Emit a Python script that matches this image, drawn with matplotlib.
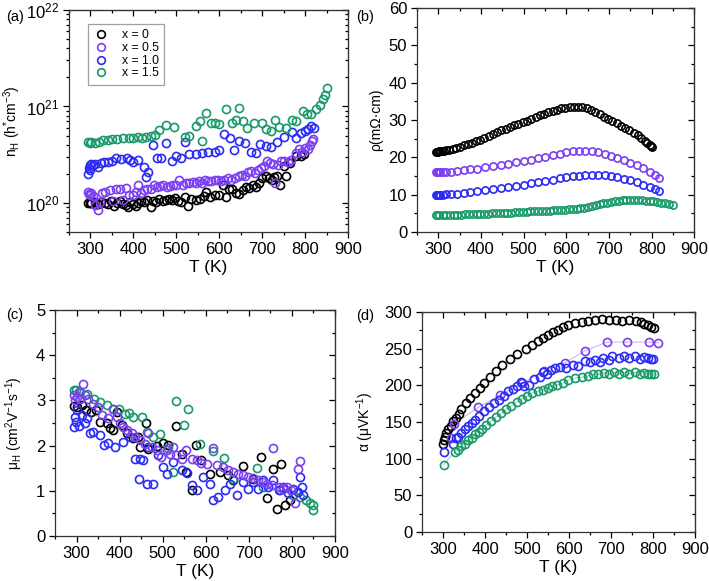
import numpy as np
import matplotlib
matplotlib.use('Agg')
import matplotlib.pyplot as plt
from matplotlib.ticker import MultipleLocator, LogLocator, NullFormatter

plt.rcParams['font.family'] = ['Liberation Sans', 'DejaVu Sans']
plt.rcParams['mathtext.fontset'] = 'custom'
plt.rcParams['mathtext.rm'] = 'Liberation Sans'
plt.rcParams['mathtext.it'] = 'Liberation Sans:italic'
plt.rcParams['mathtext.default'] = 'regular'

labels = ['x = 0', 'x = 0.5', 'x = 1.0', 'x = 1.5']
colors = ['#000000', '#7b3ff2', '#2b2bf5', '#179a68']

# ---------------- (a) carrier concentration, units of 1e20 cm^-3 ----------------
a_T0 = [295, 298, 302, 310, 318, 325, 333, 340, 348, 355, 362, 370, 376, 382, 388, 393, 400, 405,
        410, 418, 425, 432, 440, 446, 452, 460, 468, 475, 482, 490, 497, 505, 512, 520, 528, 535,
        545, 555, 565, 570, 578, 590, 600, 608, 615, 622, 630, 638, 645, 655, 662, 670, 678, 685,
        692, 700, 708, 715, 722, 728, 735, 742, 750, 756, 765, 778, 790, 798]
a_n0 = [1.00, 1.01, 1.00, 1.02, 0.98, 1.03, 1.00, 0.97, 1.05, 0.92, 1.00, 1.06, 0.98, 0.95, 0.90, 1.02, 0.97, 0.93,
        1.00, 1.04, 1.02, 1.08, 0.91, 1.06, 1.02, 1.10, 1.05, 1.08, 1.10, 1.07, 1.12, 1.05, 1.02, 1.15, 0.93, 1.10,
        1.08, 1.10, 1.18, 1.30, 1.15, 1.22, 1.20, 1.52, 1.15, 1.38, 1.40, 1.28, 1.25, 1.35, 1.45, 1.42, 1.52, 1.48,
        1.62, 1.80, 1.92, 1.80, 1.75, 1.85, 1.92, 1.54, 2.40, 1.90, 2.60, 3.05, 3.10, 3.20]
a_T1 = [295, 297, 299, 301, 305, 310, 318, 322, 328, 335, 345, 352, 360, 368, 375, 382, 390, 398, 405,
        410, 418, 425, 432, 440, 448, 455, 462, 470, 478, 485, 492, 500, 507, 515, 522, 530, 538, 545,
        552, 560, 568, 575, 582, 590, 598, 605, 612, 620, 628, 636, 645, 652, 660, 668, 675, 683, 690,
        698, 705, 712, 718, 725, 729, 738, 745, 752, 760, 768, 778, 785, 793, 800, 806, 812, 816, 818]
a_n1 = [1.30, 1.25, 1.22, 1.28, 1.18, 0.95, 0.85, 1.02, 1.28, 1.30, 1.35, 1.05, 1.38, 1.40, 1.08, 1.42, 1.20, 1.22, 1.30,
        1.55, 1.28, 1.35, 1.38, 1.40, 1.52, 1.45, 1.50, 1.52, 1.48, 1.50, 1.55, 1.52, 1.75, 1.55, 1.62, 1.60, 1.65, 1.62,
        1.70, 1.62, 1.72, 1.70, 1.68, 1.72, 1.75, 1.70, 1.72, 1.80, 1.75, 1.80, 1.90, 1.95, 1.90, 2.10, 2.15, 2.05, 2.20,
        2.30, 2.40, 2.70, 2.60, 2.55, 1.60, 2.50, 2.70, 2.75, 2.65, 2.80, 3.30, 3.60, 3.40, 3.70, 3.60, 4.00, 4.40, 4.60]
a_T2 = [295, 296, 298, 300, 302, 305, 310, 318, 325, 332, 340, 350, 360, 372, 385, 392, 400, 410, 425,
        430, 435, 445, 455, 465, 475, 490, 500, 510, 520, 530, 545, 560, 575, 590, 600, 610, 625, 635,
        645, 660, 675, 685, 695, 710, 720, 735, 750, 770, 780, 790, 800, 808, 815, 820]
a_n2 = [2.00, 2.30, 2.50, 2.20, 2.55, 2.45, 2.55, 2.35, 2.60, 2.65, 2.65, 2.75, 2.95, 2.85, 2.95, 2.80, 2.65, 2.80, 2.35,
        1.85, 2.10, 4.00, 2.90, 2.90, 4.20, 2.75, 3.10, 2.95, 4.30, 3.25, 3.20, 3.30, 3.35, 3.40, 3.55, 5.20, 4.70, 3.50,
        4.40, 4.20, 3.40, 3.30, 4.10, 3.90, 3.80, 4.30, 4.80, 5.50, 4.70, 5.30, 5.60, 5.80, 6.30, 6.00]
a_T3 = [295, 298, 302, 310, 320, 330, 340, 350, 362, 375, 390, 400, 410, 420, 430, 440, 450, 460, 475,
        495, 520, 530, 545, 555, 560, 570, 580, 590, 600, 615, 630, 640, 645, 655, 665, 680, 700, 710,
        720, 730, 740, 755, 770, 780, 795, 805, 815, 825, 835, 842, 846, 850]
a_n3 = [4.30, 4.20, 4.25, 4.20, 4.30, 4.45, 4.50, 4.60, 4.65, 4.70, 4.70, 4.75, 4.80, 4.75, 4.85, 5.00, 5.10, 5.70, 6.50,
        6.20, 4.80, 5.00, 6.30, 7.10, 4.40, 8.50, 6.80, 6.70, 6.60, 9.50, 6.80, 7.20, 9.60, 7.00, 6.00, 6.80, 6.80, 5.80,
        5.60, 7.20, 6.10, 6.00, 7.20, 7.00, 9.00, 8.30, 8.40, 9.50, 10.3, 12.0, 13.0, 15.5]

# ---------------- (b) resistivity, mOhm cm ----------------
b_T0 = [295, 297, 299, 301, 304, 308, 313, 319, 326, 334, 342, 351, 360, 369, 378, 388, 398, 408, 418, 428,
        438, 448, 458, 468, 478, 488, 498, 508, 518, 528, 538, 548, 558, 568, 578, 588, 598, 608, 618, 628,
        638, 648, 658, 668, 678, 688, 698, 708, 718, 728, 738, 748, 758, 768, 776, 784, 790, 795, 798, 800]
b_r0 = [21.5, 21.5, 21.5, 21.6, 21.6, 21.7, 21.8, 21.9, 22.0, 22.2, 22.5, 22.8, 23.2, 23.5, 23.9, 24.3, 24.7, 25.2, 25.7, 26.2,
        26.7, 27.2, 27.7, 28.2, 28.6, 29.0, 29.4, 29.8, 30.3, 30.8, 31.3, 31.7, 32.1, 32.5, 32.8, 33.1, 33.3, 33.5, 33.6, 33.6,
        33.5, 33.2, 32.7, 32.1, 31.5, 30.9, 30.3, 29.7, 29.1, 28.5, 27.9, 27.3, 26.6, 25.9, 25.2, 24.5, 23.9, 23.3, 23.0, 22.7]
b_T1 = [295, 296, 297, 298, 299, 300, 302, 305, 310, 318, 330, 345, 360, 375, 390, 410, 428, 446, 464, 482, 500,
        517, 534, 551, 568, 585, 600, 615, 630, 645, 660, 675, 690, 705, 720, 735, 750, 765, 780, 795, 808, 818]
b_r1 = [16.0, 16.0, 16.0, 16.0, 16.0, 16.0, 16.0, 16.0, 16.0, 16.1, 16.2, 16.4, 16.6, 16.8, 17.0, 17.3, 17.6, 17.9, 18.3, 18.7, 19.0,
        19.4, 19.8, 20.2, 20.6, 21.0, 21.3, 21.6, 21.8, 21.8, 21.6, 21.3, 20.9, 20.4, 19.9, 19.3, 18.6, 17.9, 17.1, 16.2, 15.2, 14.4]
b_T2 = [295, 296, 297, 298, 299, 300, 302, 305, 310, 318, 330, 345, 360, 375, 390, 410, 428, 446, 464, 482, 500,
        517, 534, 551, 568, 585, 600, 615, 630, 645, 660, 675, 690, 705, 720, 735, 750, 765, 780, 795, 808, 818]
b_r2 = [10.0, 10.0, 10.0, 10.0, 10.0, 10.0, 10.0, 10.0, 10.0, 10.1, 10.2, 10.3, 10.5, 10.7, 10.9, 11.2, 11.5, 11.8, 12.1, 12.4, 12.7,
        13.0, 13.4, 13.7, 14.0, 14.4, 14.7, 14.9, 15.1, 15.2, 15.3, 15.3, 15.2, 15.0, 14.7, 14.3, 13.8, 13.3, 12.7, 12.0, 11.4, 11.0]
b_T3 = [295, 298, 302, 310, 318, 327, 336, 345, 354, 363, 372, 381, 390, 399, 408, 417, 426, 435, 444, 453, 462,
        471, 480, 489, 498, 507, 516, 525, 534, 543, 552, 561, 570, 579, 588, 597, 606, 615, 624, 633, 642, 651,
        660, 669, 678, 687, 696, 705, 714, 723, 732, 741, 750, 759, 768, 777, 786, 795, 804, 813, 822, 831, 840, 850]
b_r3 = [4.5, 4.5, 4.5, 4.5, 4.5, 4.5, 4.6, 4.6, 4.6, 4.7, 4.7, 4.8, 4.8, 4.8, 4.9, 4.9, 5.0, 5.0, 5.1, 5.1, 5.2,
        5.2, 5.3, 5.3, 5.4, 5.4, 5.5, 5.5, 5.6, 5.6, 5.7, 5.7, 5.8, 5.8, 5.9, 6.0, 6.1, 6.1, 6.2, 6.3, 6.5, 6.7,
        6.9, 7.1, 7.4, 7.7, 7.9, 8.1, 8.3, 8.4, 8.5, 8.6, 8.6, 8.6, 8.6, 8.5, 8.4, 8.3, 8.2, 8.1, 7.9, 7.8, 7.6, 7.3]

# ---------------- (c) Hall mobility, cm2/Vs ----------------
c_T0 = [294, 300, 312, 323, 333, 346, 354, 370, 378, 385, 393, 405, 416, 432, 443, 447, 461, 466, 486, 501,
        513, 530, 544, 555, 567, 577, 590, 610, 633, 652, 664, 687, 710, 728, 741, 755, 765, 775, 784, 795]
c_u0 = [2.88, 2.86, 2.90, 2.78, 2.74, 2.78, 2.53, 2.49, 2.38, 2.34, 2.75, 2.45, 2.27, 2.16, 2.19, 1.97, 2.49, 1.92, 1.99, 2.05,
        2.01, 2.43, 1.82, 1.42, 1.01, 2.02, 1.68, 1.38, 1.42, 1.34, 1.23, 1.54, 1.27, 1.74, 0.85, 1.48, 0.60, 1.59, 0.68, 0.79]
c_T1 = [294, 296, 300, 305, 308, 314, 319, 327, 339, 350, 358, 374, 385, 393, 401, 408, 416, 428, 435, 447,
        459, 466, 474, 486, 497, 509, 517, 525, 532, 544, 555, 567, 579, 590, 602, 617, 625, 641, 652, 664,
        675, 687, 699, 710, 722, 734, 741, 753, 757, 769, 780, 788, 799, 807, 815, 819]
c_u1 = [3.12, 3.00, 3.08, 3.19, 3.04, 3.36, 3.12, 3.04, 2.93, 2.86, 2.67, 2.60, 2.82, 2.64, 2.49, 2.42, 2.34, 2.27, 2.19, 2.12,
        2.03, 2.27, 1.97, 1.90, 1.75, 1.90, 1.82, 1.97, 1.79, 1.71, 1.90, 1.71, 1.68, 1.62, 1.60, 1.94, 1.57, 1.53, 1.45, 1.42,
        1.38, 1.34, 1.31, 1.29, 1.23, 1.20, 1.16, 1.12, 1.94, 1.09, 1.03, 1.09, 1.01, 0.74, 1.49, 1.65]
c_T2 = [294, 296, 298, 302, 306, 312, 319, 325, 331, 339, 354, 363, 374, 389, 408, 424, 435, 446, 447, 455,
        463, 466, 478, 490, 501, 509, 525, 544, 556, 567, 579, 594, 610, 617, 629, 645, 656, 672, 687, 699,
        710, 722, 734, 745, 757, 769, 780, 792, 803, 815, 819, 823, 826]
c_u2 = [2.42, 2.64, 2.53, 2.78, 2.43, 2.67, 2.49, 2.60, 2.27, 2.30, 2.23, 2.01, 2.05, 1.97, 2.08, 2.19, 1.71, 1.25, 1.71, 1.68,
        1.14, 1.97, 1.14, 1.79, 1.53, 1.38, 1.64, 1.45, 1.40, 1.12, 1.01, 1.31, 1.16, 0.79, 0.86, 1.01, 1.14, 0.90, 1.20, 1.03,
        1.20, 1.05, 1.23, 1.09, 1.23, 1.01, 1.09, 0.94, 1.05, 0.97, 1.31, 1.09, 0.90]
c_T3 = [294, 298, 308, 325, 341, 354, 370, 384, 399, 412, 422, 432, 451, 463, 478, 494, 513, 523, 532, 550,
        559, 586, 617, 642, 664, 718, 733, 772, 803, 819, 833, 842, 850, 850]
c_u3 = [3.24, 3.23, 3.19, 3.14, 3.04, 2.97, 2.90, 2.82, 2.82, 2.71, 2.73, 2.64, 2.64, 2.30, 2.19, 2.25, 1.94, 1.42, 2.98, 2.45,
        2.82, 2.03, 1.87, 1.73, 1.27, 1.51, 1.09, 1.01, 0.90, 0.86, 0.79, 0.73, 0.69, 0.58]

# ---------------- (d) Seebeck coefficient, uV/K ----------------
d_T0 = [301, 303, 305, 308, 312, 318, 324, 331, 337, 344, 354, 364, 377, 389, 398, 413, 426, 441, 459, 477,
        497, 513, 526, 538, 550, 562, 574, 586, 598, 614, 630, 646, 662, 679, 695, 711, 727, 743, 759, 771,
        779, 787, 795, 803]
d_a0 = [120, 126, 130, 135, 140, 145, 151, 155, 161, 168, 176, 183, 189, 196, 203, 211, 220, 228, 236, 243,
        250, 255, 260, 264, 268, 273, 276, 279, 282, 285, 287, 288, 289, 290, 289, 289, 288, 289, 288, 286,
        284, 282, 280, 278]
d_T1 = [318, 326, 384, 436, 487, 541, 590, 638, 690, 739, 790, 813]
d_a1 = [128, 147, 170, 187, 203, 219, 231, 247, 259, 259, 259, 258]
d_T2 = [302, 323, 331, 336, 344, 352, 360, 368, 377, 385, 397, 409, 421, 433, 445, 455, 467, 477, 485, 493,
        505, 517, 530, 538, 548, 558, 566, 578, 594, 610, 622, 638, 650, 662, 674, 682, 695, 703, 719, 731,
        743, 757, 770, 779, 787, 795, 801]
d_a2 = [109, 120, 128, 130, 135, 140, 144, 149, 153, 158, 165, 170, 176, 180, 185, 192, 195, 199, 204, 199,
        201, 208, 212, 218, 215, 221, 224, 225, 223, 228, 227, 233, 232, 235, 232, 237, 235, 240, 237, 240,
        237, 240, 236, 239, 237, 236, 236]
d_T3 = [302, 328, 336, 344, 352, 360, 368, 377, 385, 393, 403, 414, 426, 439, 451, 463, 475, 487, 501, 513,
        526, 538, 550, 559, 572, 586, 598, 614, 630, 646, 658, 670, 683, 695, 707, 719, 731, 743, 757, 770,
        779, 787, 795, 803]
d_a3 = [92, 109, 112, 117, 120, 125, 128, 133, 137, 140, 146, 151, 157, 162, 168, 172, 177, 182, 185, 190,
        192, 194, 197, 199, 201, 203, 207, 210, 211, 213, 215, 215, 217, 215, 218, 216, 218, 216, 218, 216,
        217, 216, 216, 215]

TICK_FS = 12
XLAB_FS = 12.5
YLAB_FS = 10


def style(ax, ylim, ymaj=None, ymin=None, log=False):
    ax.set_xlim(250, 900)
    ax.set_ylim(*ylim)
    ax.xaxis.set_major_locator(MultipleLocator(100))
    ax.xaxis.set_minor_locator(MultipleLocator(50))
    if log:
        ax.set_yscale('log')
        ax.set_ylim(*ylim)
        ax.yaxis.set_major_locator(LogLocator(base=10, numticks=10))
        ax.yaxis.set_minor_locator(LogLocator(base=10, subs=np.arange(2, 10), numticks=10))
        ax.yaxis.set_minor_formatter(NullFormatter())
    else:
        ax.yaxis.set_major_locator(MultipleLocator(ymaj))
        ax.yaxis.set_minor_locator(MultipleLocator(ymin))
    ax.tick_params(which='both', direction='out', labelsize=TICK_FS, width=0.9, pad=2.5)
    ax.tick_params(which='major', length=4.5)
    ax.tick_params(which='minor', length=2.5)
    for s in ax.spines.values():
        s.set_linewidth(0.9)
        s.set_color('#333333')
    top = ax.secondary_xaxis('top')
    top.xaxis.set_major_locator(MultipleLocator(100))
    top.xaxis.set_minor_locator(MultipleLocator(50))
    top.tick_params(which='both', direction='in', labeltop=False, width=0.9)
    top.tick_params(which='major', length=4.5)
    top.tick_params(which='minor', length=2.5)
    right = ax.secondary_yaxis('right')
    if log:
        right.yaxis.set_major_locator(LogLocator(base=10, numticks=10))
        right.yaxis.set_minor_locator(LogLocator(base=10, subs=np.arange(2, 10), numticks=10))
    else:
        right.yaxis.set_major_locator(MultipleLocator(ymaj))
        right.yaxis.set_minor_locator(MultipleLocator(ymin))
    right.tick_params(which='both', direction='in', labelright=False, width=0.9)
    right.tick_params(which='major', length=4.5)
    right.tick_params(which='minor', length=2.5)
    ax.set_xlabel('T (K)', fontsize=XLAB_FS, labelpad=2.5)


mk = dict(marker='o', linestyle='none', markerfacecolor='none', markeredgewidth=1.2)

fig = plt.figure(figsize=(7.09, 5.81), dpi=100)

# (a)
ax = fig.add_axes([0.0973, 0.6007, 0.3935, 0.3821])
for T, n, c, lab in zip([a_T0, a_T1, a_T2, a_T3], [a_n0, a_n1, a_n2, a_n3], colors, labels):
    ax.plot(T, np.array(n) * 1e20, color=c, markersize=5.8, label=lab, **mk)
style(ax, (5e19, 1e22), log=True)
ax.set_ylabel(r'n$_{H}$ (h$^{*}$cm$^{-3}$)', fontsize=YLAB_FS, labelpad=2)
leg = ax.legend(loc='upper left', bbox_to_anchor=(0.068, 0.937), borderaxespad=0, fontsize=8.8,
                fancybox=False, edgecolor='#888888', handletextpad=1.0, labelspacing=0.05,
                borderpad=0.45, handlelength=1.3, handleheight=0.6, markerscale=0.95)
leg.get_frame().set_linewidth(0.9)
fig.text(0.008, 0.982, '(a)', fontsize=10.5, va='top')

# (b)
ax = fig.add_axes([0.588, 0.6007, 0.3913, 0.3855])
for T, r, c in zip([b_T0, b_T1, b_T2, b_T3], [b_r0, b_r1, b_r2, b_r3], colors):
    ax.plot(T, r, color=c, markersize=5.2, **mk)
style(ax, (0, 60), 10, 5)
ax.set_ylabel('ρ(mΩ·cm)', fontsize=YLAB_FS)
fig.text(0.502, 0.982, '(b)', fontsize=10.5, va='top')

# (c)
ax = fig.add_axes([0.0776, 0.0775, 0.3949, 0.3889])
for T, u, c in zip([c_T0, c_T3, c_T2, c_T1], [c_u0, c_u3, c_u2, c_u1],
                   [colors[0], colors[3], colors[2], colors[1]]):
    ax.plot(T, u, color=c, markersize=5.8, **mk)
style(ax, (0, 5), 1, 0.5)
ax.set_ylabel(r'μ$_{H}$ (cm$^{2}$V$^{-1}$s$^{-1}$)', fontsize=YLAB_FS, labelpad=8)
fig.text(0.008, 0.47, '(c)', fontsize=10.5, va='top')

# (d)
ax = fig.add_axes([0.5952, 0.0843, 0.3851, 0.3787])
ax.plot(d_T1, d_a1, color=colors[1], linewidth=0.6, alpha=0.5)
ax.plot(d_T3, d_a3, color=colors[3], linewidth=0.6, alpha=0.5)
for T, a, c in zip([d_T0, d_T1, d_T2, d_T3], [d_a0, d_a1, d_a2, d_a3], colors):
    ax.plot(T, a, color=c, markersize=5.8, **mk)
style(ax, (0, 300), 50, 25)
ax.set_ylabel(r'α (μVK$^{-1}$)', fontsize=YLAB_FS, labelpad=6)
fig.text(0.502, 0.468, '(d)', fontsize=10.5, va='top')

fig.savefig('out.png', dpi=100)
